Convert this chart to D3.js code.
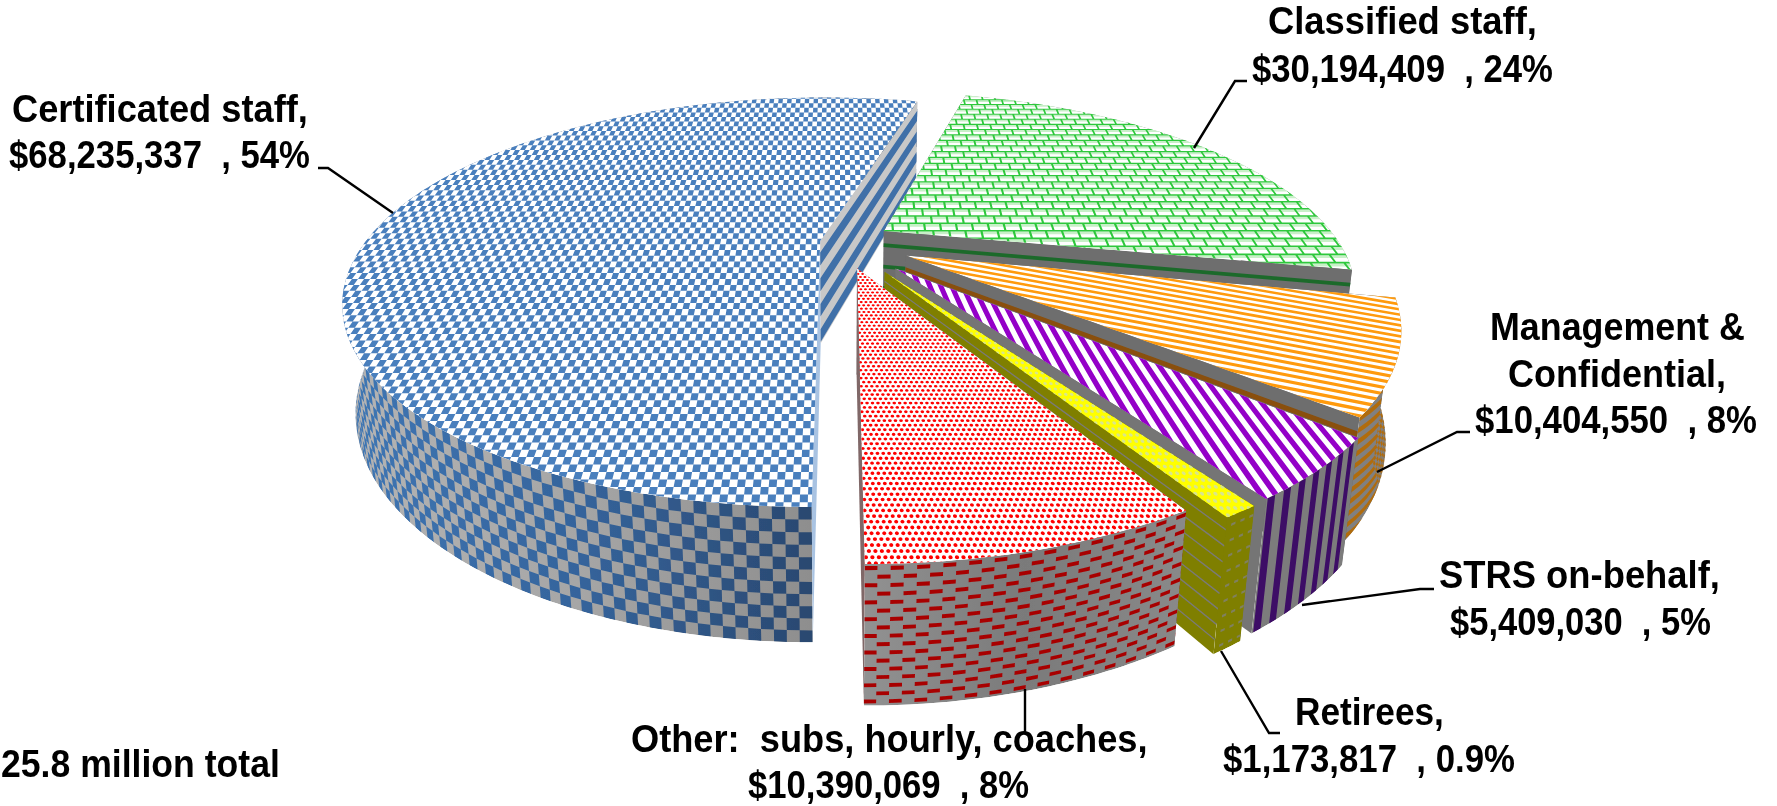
<!DOCTYPE html>
<html>
<head>
<meta charset="utf-8">
<script src="https://cdn.jsdelivr.net/npm/d3@7"></script>
<style>
  html, body { margin: 0; padding: 0; background: #fff; overflow: hidden; }
  text { font-family: "Liberation Sans", Arial, sans-serif; font-weight: bold; fill: #000; white-space: pre; }
</style>
</head>
<body>
<svg id="chart" width="1777" height="806"></svg>
<script>
// values
const categories = ["Certificated staff", "Classified staff", "Management & Confidential",
  "STRS on-behalf", "Retirees", "Other: subs, hourly, coaches"];
const amounts = [68235337, 30194409, 10404550, 5409030, 1173817, 10390069];
const percents = ["54%", "24%", "8%", "5%", "0.9%", "8%"];
const totalLabel = "25.8 million total";
const labelHeads = [["Certificated staff,"], ["Classified staff,"], ["Management &", "Confidential,"],
  ["STRS on-behalf,"], ["Retirees,"], ["Other:  subs, hourly, coaches,"]];

// how far each slice is pulled out of the pie
const explode = [0.044, 0.115, 0.158, 0.179, 0.18, 0.14];

// where the label lines sit: [left, right, baseline], one per line
const labelBoxes = [
  [[12, 308, 122], [9, 310, 168]],
  [[1268, 1537, 34], [1252, 1553, 82]],
  [[1490, 1745, 340], [1508, 1726, 387], [1475, 1757, 433]],
  [[1439, 1720, 588], [1450, 1711, 635]],
  [[1295, 1444, 725], [1223, 1515, 772]],
  [[631, 1148, 752], [748, 1029, 798]]
];
const totalBox = [1, 280, 777];
const leaders = [
  [[318, 168], [328, 168], [393, 213]],
  [[1247, 81], [1235, 81], [1194, 148]],
  [[1470, 432], [1457, 432], [1377, 472]],
  [[1434, 589], [1420, 589], [1302, 605]],
  [[1280, 733], [1269, 733], [1221, 651]],
  [[1025, 689], [1025, 732]]
];

// perspective camera, fitted to the picture
const CX = 840, CY = 242, RX = 455, RY = 187, P = 0.3, Q = 0.025, DEPTH = 105;
const FONT_SIZE = 39;

/* world (X right, Y to viewer, t down through the slab) to screen */
function project(X, Y, t = 0) {
  const w = 1 - P * Y + Q * t;
  return [CX + RX * X / w, CY + (RY * Y + DEPTH * t) / w];
}

const fmt = p => p[0].toFixed(1) + "," + p[1].toFixed(1);
const poly = pts => "M" + pts.map(fmt).join("L") + "Z";
const line = d3.line();

const svg = d3.select("#chart");
const defs = svg.append("defs");

// 元画像の少しぼけた感じ
defs.append("filter").attr("id", "soft").attr("x", "-5%").attr("y", "-5%").attr("width", "110%").attr("height", "110%")
  .append("feGaussianBlur").attr("stdDeviation", 0.55);
defs.append("filter").attr("id", "softText").attr("x", "-5%").attr("y", "-5%").attr("width", "110%").attr("height", "110%")
  .append("feGaussianBlur").attr("stdDeviation", 0.35);

// 横方向のグラデーション
function hGradient(id, x1, x2, stops) {
  const g = defs.append("linearGradient").attr("id", id)
    .attr("gradientUnits", "userSpaceOnUse")
    .attr("x1", x1).attr("x2", x2).attr("y1", 0).attr("y2", 0);
  stops.forEach((c, i) => g.append("stop").attr("offset", i / (stops.length - 1)).attr("stop-color", c));
  return `url(#${id})`;
}

const pie = d3.pie().sort(null).startAngle(Math.PI).endAngle(3 * Math.PI);
const slices = pie(amounts).map((d, i) => {
  const mid = (d.startAngle + d.endAngle) / 2;
  const ox = explode[i] * Math.sin(mid), oy = -explode[i] * Math.cos(mid);
  return {
    i: i, a0: d.startAngle, a1: d.endAngle, ox: ox, oy: oy,
    rim: (a, t = 0) => project(ox + Math.sin(a), oy - Math.cos(a), t),
    apex: (t = 0) => project(ox, oy, t)
  };
});

const arcAngles = s => d3.range(0, 1.0001, 1 / Math.max(8, Math.ceil((s.a1 - s.a0) / 0.01)))
  .map(f => s.a0 + f * (s.a1 - s.a0));

/* band across a cut wall, from the apex out to the rim */
function cutBand(s, a, t0, t1) {
  return poly([s.apex(t0), s.rim(a, t0), s.rim(a, t1), s.apex(t1)]);
}

/* rows of bands over a cut wall */
function cutBands(s, a, first, period, thick) {
  let d = "";
  for (let t = first; t < 1; t += period) d += cutBand(s, a, t, Math.min(1, t + thick));
  return d;
}

/* cell on the outer wall */
function wallCell(s, a0, a1, t0, t1) {
  return poly([s.rim(a0, t0), s.rim(a1, t0), s.rim(a1, t1), s.rim(a0, t1)]);
}

/* parallel strips on the top face, n is the unit normal */
function topStripes(nx, ny, period, duty) {
  const L = 1.5;
  let d = "";
  for (let o = -L; o < L; o += period) {
    const o2 = o + period * duty;
    d += poly([
      project(o * nx - L * ny, o * ny + L * nx), project(o * nx + L * ny, o * ny - L * nx),
      project(o2 * nx + L * ny, o2 * ny - L * nx), project(o2 * nx - L * ny, o2 * ny + L * nx)
    ]);
  }
  return d;
}

/* 小さい点を並べる */
function topDots(dx, dy, rx, ry) {
  let d = "";
  let row = 0;
  for (let Y = -0.2; Y < 1.25; Y += dy, row++) {
    for (let X = (row % 2) * dx / 2 - 0.1; X < 0.85; X += dx) {
      const pts = d3.range(8).map(k => project(X + rx * Math.cos(k * Math.PI / 4), Y + ry * Math.sin(k * Math.PI / 4)));
      d += poly(pts);
    }
  }
  return d;
}

/* checks on the top face: the rows shrink less towards the back than true perspective */
function topChecks() {
  const dX = 0.0125;
  const rowY = [];
  for (let y = 90; y < 520; y += 4.4 + 3.4 * (y - 90) / 420) {
    rowY.push((y - CY) / (RY + P * (y - CY)));
  }
  let d = "";
  for (let i = -100; i < 50; i++) {
    for (let j = 0; j < rowY.length - 1; j++) {
      if ((i + j + 400) % 2) continue;
      d += poly([project(i * dX, rowY[j]), project((i + 1) * dX, rowY[j]),
        project((i + 1) * dX, rowY[j + 1]), project(i * dX, rowY[j + 1])]);
    }
  }
  return d;
}

/* brick pattern, returns the mortar and the light band */
function topBricks() {
  const dX = 0.036, dY = 0.042;
  let mortar = "", light = "", row = 0;
  for (let Y = -1.2; Y < 0.4; Y += dY, row++) {
    mortar += poly([project(-0.1, Y), project(1.3, Y), project(1.3, Y + 0.009), project(-0.1, Y + 0.009)]);
    light += poly([project(-0.1, Y + 0.009), project(1.3, Y + 0.009), project(1.3, Y + 0.024), project(-0.1, Y + 0.024)]);
    for (let X = (row % 2) * dX / 2 - 0.1; X < 1.3; X += dX) {
      mortar += poly([project(X, Y), project(X + 0.005, Y), project(X + 0.005, Y + dY), project(X, Y + dY)]);
    }
  }
  return { mortar: mortar, light: light };
}

/* one slice, painted back to front: start cut, outer wall, end cut, top */
function drawSlice(s) {
  const g = svg.append("g").attr("class", "slice").attr("data-name", categories[s.i])
    .attr("filter", "url(#soft)");
  const angles = arcAngles(s);

  const topPts = [s.apex()].concat(angles.map(a => s.rim(a)));
  const wallPts = angles.map(a => s.rim(a)).concat(angles.slice().reverse().map(a => s.rim(a, 1)));

  const clip = (id, pts) => defs.append("clipPath").attr("id", id).append("path").attr("d", line(pts) + "Z");
  clip("top" + s.i, topPts);
  clip("wall" + s.i, wallPts);

  const startCut = g.append("g");
  const wall = g.append("g").attr("clip-path", `url(#wall${s.i})`);
  const endCut = g.append("g");
  const top = g.append("g").attr("clip-path", `url(#top${s.i})`);

  const fillWall = (c) => wall.append("path").attr("d", line(wallPts) + "Z").attr("fill", c);
  const texWall = (d, c) => wall.append("path").attr("d", d).attr("fill", c);
  const cut = (group, a, c, d, c2) => {
    group.append("path").attr("d", cutBand(s, a, 0, 1)).attr("fill", c);
    if (d) group.append("path").attr("d", d).attr("fill", c2);
  };
  const fillTop = c => top.append("path").attr("d", line(topPts) + "Z").attr("fill", c);
  const texTop = (d, c) => top.append("path").attr("d", d).attr("fill", c);

  if (s.i === 0) {
    // 青: 市松模様
    fillWall(hGradient("blueGray", 343, 812, ["#b4b4b4", "#a6a6a6", "#8e8e8e"]));
    const cellA = 0.0206, rows = 11;
    let d = "";
    for (let k = 0; k * cellA < s.a1 - s.a0; k++) {
      for (let r = 0; r < rows; r++) {
        if ((k + r) % 2) continue;
        d += wallCell(s, s.a0 + k * cellA, s.a0 + (k + 1) * cellA, r / rows, (r + 1) / rows);
      }
    }
    texWall(d, hGradient("blueDark", 343, 812, ["#3f76b4", "#35649c", "#2a4870"]));
    cut(startCut, s.a0, "#a9c3e2");
    cut(endCut, s.a1, "#c8c8c8", cutBands(s, s.a1, 0.11, 0.25, 0.125), "#3f6fa8");
    fillTop("#ffffff");
    texTop(topChecks(), "#4a7fbd");
  } else if (s.i === 1) {
    // 緑: レンガ
    fillWall("#6e6e6e");
    cut(startCut, s.a0, "#6e6e6e");
    cut(endCut, s.a1, "#6e6e6e", cutBands(s, s.a1, 0.12, 0.21, 0.035), "#1c6a2c");
    fillTop("#ffffff");
    const b = topBricks();
    texTop(b.light, "#c8f0c8");
    texTop(b.mortar, "#2fc83c");
  } else if (s.i === 2) {
    // オレンジ: 斜め線
    fillWall("#808080");
    let d = "";
    for (let r = -3; r < 16; r++) {
      const up = [], down = [];
      angles.forEach(a => {
        const t = r * 0.095 + (s.a1 - a) * 0.7 - 0.3;
        up.push(s.rim(a, t));
        down.unshift(s.rim(a, t + 0.045));
      });
      d += poly(up.concat(down));
    }
    texWall(d, "#b06c10");
    cut(startCut, s.a0, "#6e6e6e");
    cut(endCut, s.a1, "#6e6e6e", cutBands(s, s.a1, 0.11, 0.3, 0.04), "#8a4f08");
    fillTop("#ffffff");
    texTop(topStripes(-0.403, 0.915, 0.024, 0.5), "#ff9a0a");
  } else if (s.i === 3) {
    // 紫: 縦線
    fillWall("#7c7c7c");
    const step = 0.0386;
    let d = "";
    for (let k = 0; s.a1 - (k + 0.55) * step > s.a0 - step; k++) {
      d += wallCell(s, s.a1 - (k + 0.55) * step, s.a1 - (k + 0.1) * step, 0, 1);
    }
    texWall(d, "#3d0a66");
    cut(startCut, s.a0, "#6e6e6e");
    cut(endCut, s.a1, "#757575");
    fillTop("#ffffff");
    texTop(topStripes(0.992, -0.124, 0.0223, 0.5), "#9400c8");
  } else if (s.i === 4) {
    // 黄: 点
    fillWall("#7f7f00");
    let d = "";
    for (let r = 0; r < 9; r++) {
      const t = (r + 0.5) / 9;
      for (let k = 0; k < 3; k++) {
        const a = s.a0 + (k / 3) * (s.a1 - s.a0);
        d += wallCell(s, a, a + 0.009, t, t + 0.018);
      }
    }
    texWall(d, "#808060");
    cut(startCut, s.a0, "#7f7f00");
    cut(endCut, s.a1, "#7f7f00", cutBands(s, s.a1, 0.08, 0.115, 0.012), "#7a7a7a");
    fillTop("#ffff00");
    texTop(topDots(0.0105, 0.019, 0.0032, 0.0055), "#d9e68c");
  } else {
    // 赤: 点と破線
    fillWall(hGradient("redGray", 860, 1190, ["#929292", "#7a7a7a", "#8a8a8a"]));
    const step = 0.0385, rows = 17;
    let d = "";
    for (let r = 0; r < rows; r++) {
      const shift = (r % 2) * step / 2;
      for (let k = -1; k * step < s.a1 - s.a0; k++) {
        d += wallCell(s, s.a0 + k * step + shift, s.a0 + (k + 0.5) * step + shift,
          (r + 0.25) / rows, (r + 0.72) / rows);
      }
    }
    texWall(d, "#a80505");
    cut(startCut, s.a0, "#7a7a7a");
    cut(endCut, s.a1, "#806868");
    fillTop("#ffffff");
    texTop(topDots(0.0095, 0.0145, 0.0032, 0.0048), "#ff0000");
  }
}

slices.forEach(drawSlice);

// 引き出し線
svg.append("g").attr("class", "leaders").selectAll("path")
  .data(leaders).enter().append("path")
  .attr("d", d => line(d))
  .attr("fill", "none")
  .attr("stroke", "#000")
  .attr("stroke-width", 2.4);

// ラベル: the reference text is narrow, so each line is squeezed to its measured width
const labelLines = [{ text: totalLabel, box: totalBox }];
labelHeads.forEach((head, i) => {
  const lines = head.concat(["$" + d3.format(",")(amounts[i]) + "  , " + percents[i]]);
  lines.forEach((t, j) => labelLines.push({ text: t, box: labelBoxes[i][j] }));
});
svg.append("g").attr("class", "labels").attr("filter", "url(#softText)").selectAll("text")
  .data(labelLines).enter().append("text")
  .attr("font-size", FONT_SIZE)
  .text(d => d.text)
  .attr("transform", function(d) {
    const sx = (d.box[1] - d.box[0]) / this.getComputedTextLength();
    return `translate(${d.box[0]},${d.box[2]}) scale(${sx.toFixed(3)},1)`;
  });
</script>
</body>
</html>
